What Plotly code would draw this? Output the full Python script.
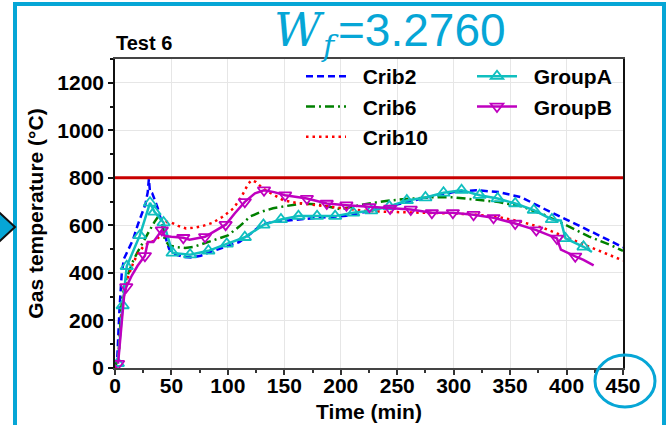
import plotly.graph_objects as go

# ---- data -----------------------------------------------------------------
crib2_t = [0, 2, 4, 6, 8, 12, 16, 20, 24, 27, 29, 30, 31, 33, 35, 38, 41, 44, 48, 52,
           60, 68, 76, 84, 92, 100, 110, 120, 130, 140, 150, 160, 175, 190, 205, 220,
           240, 260, 280, 300, 320, 340, 360, 380, 400, 420, 440, 450]
crib2_T = [0, 40, 250, 400, 460, 500, 540, 600, 650, 690, 740, 795, 740, 735, 710, 670,
           620, 560, 500, 480, 468, 465, 472, 488, 500, 512, 530, 565, 603, 615, 620, 624,
           630, 635, 640, 655, 678, 698, 722, 740, 748, 740, 718, 670, 625, 580, 532, 507]

crib6_t = [0, 3, 6, 9, 12, 16, 20, 24, 28, 32, 35, 38, 40, 42, 44, 48, 55, 62, 70, 80,
           90, 100, 110, 120, 130, 140, 150, 165, 180, 200, 220, 240, 260, 280, 300, 320,
           340, 360, 380, 400, 420, 440, 450]
crib6_T = [0, 50, 280, 360, 400, 450, 488, 520, 555, 590, 615, 635, 640, 620, 540, 515,
           508, 505, 510, 525, 540, 558, 595, 638, 658, 672, 680, 692, 688, 668, 688, 703,
           712, 718, 718, 708, 698, 680, 645, 600, 553, 515, 493]

crib10_t = [0, 3, 6, 9, 12, 16, 20, 25, 30, 35, 40, 43, 46, 50, 56, 63, 70, 78, 86, 95,
            105, 112, 118, 121, 125, 131, 140, 149, 160, 180, 200, 220, 240, 260, 280,
            300, 320, 340, 360, 380, 400, 420, 440, 450]
crib10_T = [0, 40, 250, 340, 390, 440, 480, 510, 528, 535, 555, 610, 615, 612, 598, 587,
            590, 598, 610, 635, 672, 720, 775, 790, 782, 755, 730, 706, 695, 685, 672,
            662, 657, 655, 652, 650, 645, 635, 615, 588, 550, 510, 470, 452]

groupA_t = [2.5, 6.8, 10.4, 22, 31, 35, 43, 51, 66.5, 82.7, 99, 115, 131.5, 147, 162.5,
            179, 195, 211, 227, 243, 258.5, 275, 291, 307, 323, 339, 354.5, 371, 387,
            395, 399, 415, 422.5]
groupA_T = [20, 263, 428, 558, 695, 657, 612, 484, 477, 493, 522, 550, 602, 625, 639,
            639, 639, 653, 662, 680, 705, 717, 737, 748, 727, 713, 692, 664, 625,
            620, 545, 510, 488]
groupA_mark = [i for i, t in enumerate(groupA_t) if t not in (395, 422.5)]

groupB_t = [2.7, 5, 8, 10, 15, 20, 26.5, 29, 34, 41.5, 44, 50, 60.5, 66, 72, 79.8, 88,
            98, 106, 115, 124, 132, 141, 150.7, 170, 187.6, 205, 225.4, 243.7, 262,
            280.7, 299.3, 317.6, 335.3, 354.5, 373.2, 391.5, 395, 407.7, 415, 424]
groupB_T = [18, 150, 300, 341, 390, 430, 472, 530, 530, 580, 555, 552, 548, 540, 545,
            552, 575, 603, 650, 699, 735, 748, 740, 727, 713, 692, 685, 678, 671, 667,
            653, 653, 645, 632, 608, 580, 545, 498, 470, 455, 432]
groupB_mark_t = [2.7, 10, 26.5, 41.5, 60.5, 79.8, 98, 115, 132, 150.7, 170, 187.6, 205,
                 225.4, 243.7, 262, 280.7, 299.3, 317.6, 335.3, 354.5, 373.2, 391.5, 407.7]
groupB_mark = [groupB_t.index(t) for t in groupB_mark_t]

limit_T = [800]
x_ticks = [0, 50, 100, 150, 200, 250, 300, 350, 400, 450]
y_ticks = [0, 200, 400, 600, 800, 1000, 1200]

# ---- style -----------------------------------------------------------------
FONT = "Liberation Sans, Arial, sans-serif"
MATH = "DejaVu Serif, Liberation Serif, serif"
ACCENT = "#06a6d6"
BLUE, GREEN, RED = "#0000ff", "#008000", "#ff0000"
CYAN, MAGENTA = "#10bfbf", "#bf00bf"
GAP = "\u00a0\u00a0"  # extra room between legend sample and label

fig = go.Figure()

fig.add_trace(go.Scatter(x=crib2_t, y=crib2_T, mode="lines", name=GAP + "Crib2",
                         line=dict(color=BLUE, width=2.5, dash="7px,4px"), legend="legend"))
fig.add_trace(go.Scatter(x=crib6_t, y=crib6_T, mode="lines", name=GAP + "Crib6",
                         line=dict(color=GREEN, width=2.5, dash="9px,4px,2px,4px"), legend="legend"))
fig.add_trace(go.Scatter(x=crib10_t, y=crib10_T, mode="lines", name=GAP + "Crib10",
                         line=dict(color=RED, width=2.5, dash="2.5px,4px"), legend="legend"))


def group_traces(name, t, T, mark_idx, color, symbol):
    # continuous line, then the sampled markers, plus one legend entry
    fig.add_trace(go.Scatter(x=t, y=T, mode="lines", showlegend=False,
                             line=dict(color=color, width=2.5), hoverinfo="skip"))
    fig.add_trace(go.Scatter(x=[t[i] for i in mark_idx], y=[T[i] for i in mark_idx],
                             mode="markers", showlegend=False,
                             marker=dict(symbol=symbol, size=11, color=color,
                                         line=dict(color=color, width=1.8))))
    fig.add_trace(go.Scatter(x=[None], y=[None], mode="lines+markers", name=GAP + name,
                             legend="legend2",
                             line=dict(color=color, width=2.5),
                             marker=dict(symbol=symbol, size=11, color=color,
                                         line=dict(color=color, width=1.8))))


group_traces("GroupA", groupA_t, groupA_T, groupA_mark, CYAN, "triangle-up-open")
group_traces("GroupB", groupB_t, groupB_T, groupB_mark, MAGENTA, "triangle-down-open")

# plot-area geometry in pixels (used for paper-space decorations)
W, H = 672, 425
ML, MR, MT, MB = 115, 49, 59, 57
PW, PH = W - ML - MR, H - MT - MB


def px(xp):
    return (xp - ML) / PW


def py(yp):
    return 1 - (yp - MT) / PH


shapes = [
    dict(type="line", xref="paper", yref="y", x0=0, x1=1, y0=limit_T[0], y1=limit_T[0],
         line=dict(color="#c80000", width=3), layer="above"),
    # outer accent frame
    dict(type="rect", xref="paper", yref="paper", x0=px(15), x1=px(664), y0=py(445), y1=py(4),
         line=dict(color=ACCENT, width=4), fillcolor="rgba(0,0,0,0)"),
    # side pointer
    dict(type="path", xref="paper", yref="paper",
         path=f"M {px(-14)},{py(200)} L {px(15)},{py(227)} L {px(-14)},{py(254)} Z",
         line=dict(color="#111111", width=2), fillcolor=ACCENT),
    # ring around the last tick label
    dict(type="circle", xref="paper", yref="paper", x0=px(595), x1=px(655),
         y0=py(407), y1=py(355), line=dict(color=ACCENT, width=3)),
]

annotations = [
    dict(text="<b>Test 6</b>", xref="paper", yref="paper", x=px(114), y=py(43),
         xanchor="left", yanchor="middle", showarrow=False,
         font=dict(family=FONT, size=20, color="black")),
    dict(text="<i>W</i>", xref="paper", yref="paper", x=px(272), y=py(30),
         xanchor="left", yanchor="middle", showarrow=False,
         font=dict(family=MATH, size=46, color=ACCENT)),
    dict(text="<i>f</i>", xref="paper", yref="paper", x=px(319), y=py(45),
         xanchor="left", yanchor="middle", showarrow=False,
         font=dict(family=MATH, size=30, color=ACCENT)),
    dict(text="=3.2760", xref="paper", yref="paper", x=px(336), y=py(30),
         xanchor="left", yanchor="middle", showarrow=False,
         font=dict(family=FONT, size=46, color=ACCENT)),
]

axis_font = dict(family=FONT, size=21, color="black", weight="bold")
legend_font = dict(family=FONT, size=21, color="black", weight="bold")

fig.update_layout(
    width=W, height=H,
    margin=dict(l=ML, r=MR, t=MT, b=MB, pad=0, autoexpand=False),
    paper_bgcolor="white", plot_bgcolor="white",
    font=dict(family=FONT, color="black"),
    shapes=shapes, annotations=annotations,
    legend=dict(x=px(301), y=py(56), xanchor="left", yanchor="top",
                bgcolor="rgba(255,255,255,0)", borderwidth=0,
                font=legend_font, itemwidth=40),
    legend2=dict(x=px(472), y=py(56), xanchor="left", yanchor="top",
                 bgcolor="rgba(255,255,255,0)", borderwidth=0,
                 font=legend_font, itemwidth=40),
    xaxis=dict(range=[0, 450], tickvals=x_ticks, ticks="outside", ticklen=5,
               tickwidth=1.5, tickcolor="#333", tickfont=axis_font, automargin=False,
               ticklabelstandoff=-7,
               showline=True, linecolor="#444", linewidth=2, mirror=True,
               showgrid=True, gridcolor="#e6e6e6", gridwidth=1, zeroline=False,
               minor=dict(dtick=25, ticks="outside", ticklen=3, tickcolor="#333", showgrid=False),
               title=dict(text="Time (min)", font=axis_font, standoff=8)),
    yaxis=dict(range=[0, 1300], tickvals=y_ticks, ticks="outside", ticklen=5,
               tickwidth=1.5, tickcolor="#111", tickfont=axis_font, automargin=False,
               showline=True, linecolor="#111", linewidth=1.5, mirror=True,
               showgrid=True, gridcolor="#e6e6e6", gridwidth=1, zeroline=False,
               minor=dict(dtick=100, ticks="outside", ticklen=3, tickcolor="#111", showgrid=False),
               title=dict(text="Gas temperature (°C)", font=axis_font, standoff=8)),
)

fig.write_html("out.html")
